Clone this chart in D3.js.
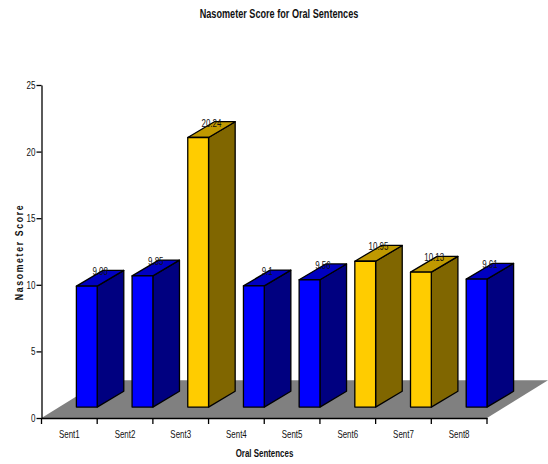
<!DOCTYPE html>
<html>
<head>
<meta charset="utf-8">
<script src="https://cdn.jsdelivr.net/npm/d3@7"></script>
<style>
  html, body { margin: 0; padding: 0; background: #fff; }
  svg { display: block; }
  text { font-family: "Liberation Sans", Arial, sans-serif; fill: #111; }
  .axis path, .axis line { stroke: #000; stroke-width: 1.3; }
</style>
</head>
<body>
<svg id="chart" width="548" height="464"></svg>
<script>
// Chart content
const categories = ["Sent1", "Sent2", "Sent3", "Sent4", "Sent5", "Sent6", "Sent7", "Sent8"];
const scores = [9.08, 9.85, 20.24, 9.1, 9.56, 10.95, 10.13, 9.61];
const scoreLabels = ["9.08", "9.85", "20.24", "9.1", "9.56", "10.95", "10.13", "9.61"];
const highlighted = ["Sent3", "Sent6", "Sent7"];
const yTicks = [0, 5, 10, 15, 20, 25];

// Plot frame and pseudo-3D projection
const plot = { left: 41.5, right: 487, top: 85, bottom: 418 };
const barWidth = 20.8, barDepthX = 26.6, barDepthY = 15.8;
const floorDepthX = 61, floorDepthY = 37.7, barLift = 10.9;

const palettes = {
  normal: { front: "#0000ff", top: "#0000c0", side: "#000080" },
  accent: { front: "#ffcc00", top: "#c09900", side: "#806600" }
};

// Condense a text element horizontally, keeping its anchor
function condense(sel, factor) {
  sel.each(function () {
    const len = this.getComputedTextLength();
    d3.select(this).attr("textLength", len * factor).attr("lengthAdjust", "spacingAndGlyphs");
  });
}

const svg = d3.select("#chart");
const x = d3.scaleBand().domain(categories).range([plot.left, plot.right]);
const y = d3.scaleLinear().domain([0, 25]).range([plot.bottom, plot.top]);

// Floor parallelogram
svg.append("path")
  .attr("d", d3.line()([
    [plot.left, plot.bottom],
    [plot.left + floorDepthX, plot.bottom - floorDepthY],
    [plot.right + floorDepthX, plot.bottom - floorDepthY],
    [plot.right, plot.bottom]
  ]) + "Z")
  .attr("fill", "#808080");

// Value axis
svg.append("g")
  .attr("class", "axis")
  .attr("transform", `translate(${plot.left},0)`)
  .call(d3.axisLeft(y).tickValues(yTicks).tickSize(5).tickSizeOuter(0).tickPadding(1))
  .call(g => g.selectAll("text").attr("font-size", 11).call(condense, 0.73));

// Category axis: labels centred in each slot, ticks on the slot boundaries
const xAxis = svg.append("g")
  .attr("class", "axis")
  .attr("transform", `translate(0,${plot.bottom})`)
  .call(d3.axisBottom(x).tickSize(0).tickSizeOuter(0).tickPadding(12.5));
xAxis.selectAll("text").attr("font-size", 11).call(condense, 0.72);
xAxis.selectAll("line.boundary")
  .data(categories.map(c => x(c)).concat(plot.right))
  .join("line")
  .attr("class", "boundary")
  .attr("x1", d => d).attr("x2", d => d)
  .attr("y1", 0).attr("y2", 6);

// Bars, each with front, top and side faces
svg.selectAll("g.bar")
  .data(categories.map((c, i) => ({ c, v: scores[i], label: scoreLabels[i] })))
  .join("g")
  .attr("class", "bar")
  .each(function (d) {
    const colors = highlighted.includes(d.c) ? palettes.accent : palettes.normal;
    const x1 = x(d.c) + x.bandwidth();
    const x0 = x1 - barWidth;
    const yBase = plot.bottom - barLift;
    const yTop = yBase - (plot.bottom - y(d.v));
    const g = d3.select(this);
    const face = (pts, fill) => g.append("path")
      .attr("d", d3.line()(pts) + "Z")
      .attr("fill", fill)
      .attr("stroke", "#000")
      .attr("stroke-width", 1.3)
      .attr("stroke-linejoin", "round");
    face([[x1, yBase], [x1 + barDepthX, yBase - barDepthY], [x1 + barDepthX, yTop - barDepthY], [x1, yTop]], colors.side);
    face([[x0, yTop], [x0 + barDepthX, yTop - barDepthY], [x1 + barDepthX, yTop - barDepthY], [x1, yTop]], colors.top);
    face([[x0, yBase], [x0, yTop], [x1, yTop], [x1, yBase]], colors.front);
    g.append("text")
      .attr("x", x0 + (barWidth + barDepthX) / 2)
      .attr("y", yTop - 11)
      .attr("text-anchor", "middle")
      .attr("font-size", 11)
      .text(d.label)
      .call(condense, 0.72);
  });

// Titles
svg.append("text")
  .attr("x", 279).attr("y", 18)
  .attr("text-anchor", "middle")
  .attr("font-size", 12).attr("font-weight", "bold")
  .text("Nasometer Score for Oral Sentences")
  .call(condense, 0.76);

svg.append("text")
  .attr("x", 264.5).attr("y", 457)
  .attr("text-anchor", "middle")
  .attr("font-size", 11).attr("font-weight", "bold")
  .text("Oral Sentences")
  .call(condense, 0.72);

svg.append("text")
  .attr("transform", "translate(23,252) rotate(-90)")
  .attr("text-anchor", "middle")
  .attr("font-size", 10.5).attr("font-weight", "bold")
  .attr("letter-spacing", 2)
  .text("Nasometer Score")
  .call(condense, 0.83);
</script>
</body>
</html>
